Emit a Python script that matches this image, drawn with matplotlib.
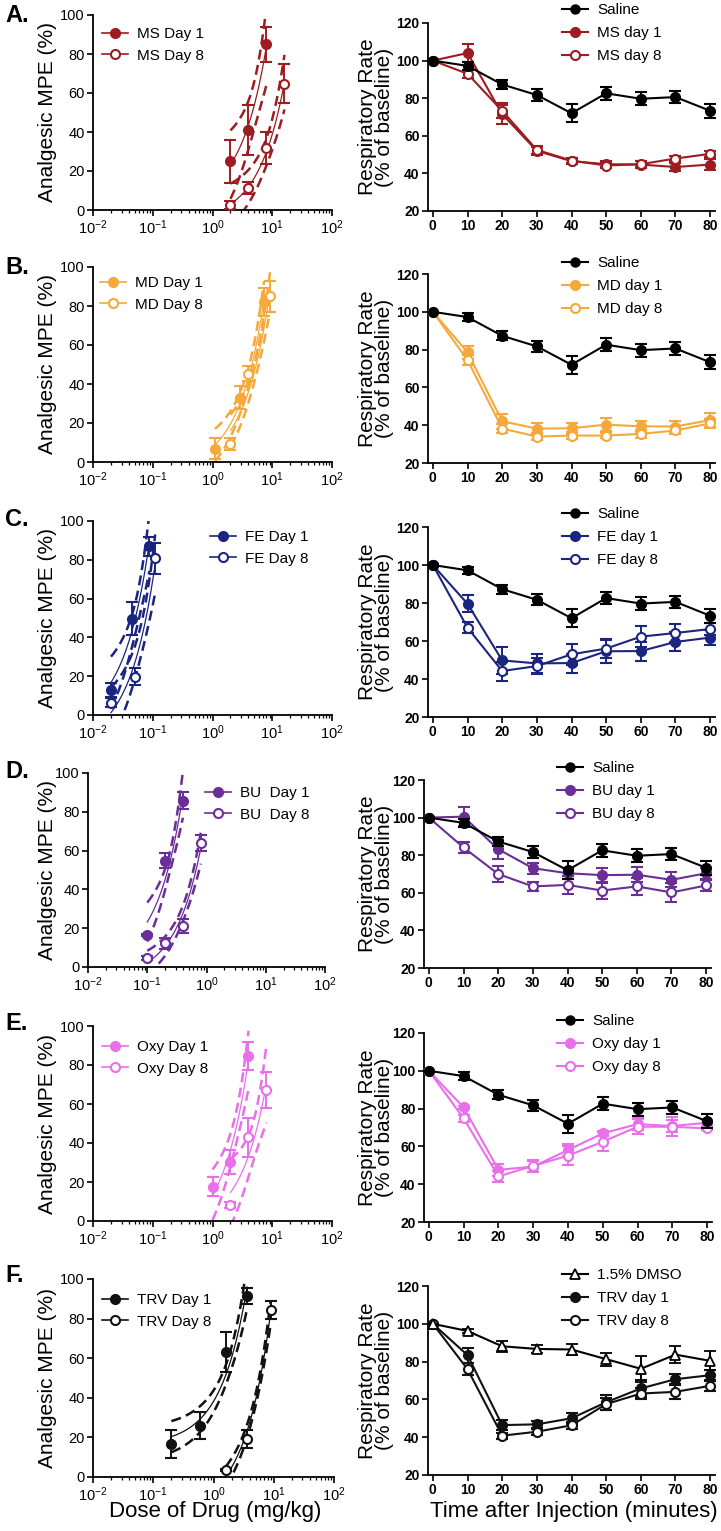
import numpy as np
import matplotlib
matplotlib.use('Agg')
import matplotlib.pyplot as plt
from matplotlib.lines import Line2D

plt.rcParams['font.family'] = ['Liberation Sans', 'DejaVu Sans']
plt.rcParams['mathtext.default'] = 'regular'

# ---------------- data ----------------
time_min = [0, 10, 20, 30, 40, 50, 60, 70, 80]
saline_rr = [100, 97.2, 87.3, 81.7, 72.0, 82.6, 79.7, 80.6, 73.3]
saline_err = [0, 2.0, 2.3, 3.0, 4.8, 3.3, 3.5, 3.3, 3.8]
dmso_rr = [100, 96.2, 88.1, 86.7, 86.4, 81.3, 76.2, 83.7, 80.4]
dmso_err = [0, 1.0, 3.0, 2.0, 3.0, 3.5, 7.0, 4.5, 5.0]

drug_names = ['MS', 'MD', 'FE', 'BU ', 'Oxy', 'TRV']
drug_colors = ['#9C1C22', '#F5A93A', '#1B2580', '#6A2E96', '#EA6FEA', '#111111']

# dose-response (analgesic MPE)
ms_d1_dose = [2, 4, 8];            ms_d1_mpe = [25, 41, 85];          ms_d1_err = [11, 13, 9]
ms_d8_dose = [2, 4, 8, 16];        ms_d8_mpe = [2.5, 11.3, 31.8, 64.8]; ms_d8_err = [2, 3, 8, 10]
md_d1_dose = [1.1, 2.9, 7.3];      md_d1_mpe = [6.8, 33, 82];         md_d1_err = [5.5, 6, 7]
md_d8_dose = [2.0, 4.0, 9.2];      md_d8_mpe = [9.4, 45.3, 85];       md_d8_err = [3, 4, 8]
fe_d1_dose = [0.02, 0.045, 0.088]; fe_d1_mpe = [12.9, 49.5, 87];      fe_d1_err = [3.5, 8.5, 5]
fe_d8_dose = [0.02, 0.051, 0.11];  fe_d8_mpe = [6.4, 19.8, 80.8];     fe_d8_err = [2.5, 4.5, 8]
bu_d1_dose = [0.1, 0.2, 0.4];      bu_d1_mpe = [16.7, 54.8, 85.7];    bu_d1_err = [0.5, 4, 4.5]
bu_d8_dose = [0.1, 0.2, 0.4, 0.8]; bu_d8_mpe = [4.8, 12.2, 21.2, 63.8]; bu_d8_err = [1, 3, 3.5, 4]
oxy_d1_dose = [1, 2, 4];           oxy_d1_mpe = [17.6, 30.3, 84.6];   oxy_d1_err = [5, 6, 7]
oxy_d8_dose = [2, 4, 8];           oxy_d8_mpe = [8.2, 42.9, 67.2];    oxy_d8_err = [1.5, 10, 9]
trv_d1_dose = [0.2, 0.6, 1.6, 3.6]; trv_d1_mpe = [16.5, 26, 63, 91.6]; trv_d1_err = [7, 7, 10, 4]
trv_d8_dose = [1.6, 3.6, 8.9];     trv_d8_mpe = [3.4, 19, 84.4];      trv_d8_err = [0.5, 4.5, 4.5]

# 95% CI band half-widths: (at mean dose, at far end)
ci_halfwidth = {
    'MS1': (12, 20), 'MS8': (7, 14), 'MD1': (5, 10), 'MD8': (5, 10),
    'FE1': (8, 15), 'FE8': (8, 15), 'BU1': (5, 12), 'BU8': (4, 8),
    'OX1': (8, 15), 'OX8': (10, 20), 'TR1': (5, 11), 'TR8': (3, 6),
}

# respiratory rate (% of baseline)
ms_d1_rr = [100, 104, 71.5, 52, 46.5, 44.9, 44.7, 43.4, 44.7];  ms_d1_rerr = [0, 5, 5, 2, 1.5, 1.5, 2, 2, 3]
ms_d8_rr = [100, 93, 73.3, 52.5, 46.8, 44.2, 44.9, 47.9, 50.4]; ms_d8_rerr = [0, 2, 4, 2, 1.5, 1.5, 1.5, 1.5, 1.5]
md_d1_rr = [100, 78.6, 42.1, 38.2, 38.4, 40.3, 39.4, 39.3, 42.7]; md_d1_rerr = [0, 3.5, 4, 3, 3, 3.5, 3, 3, 3.5]
md_d8_rr = [100, 74.5, 38.2, 34.0, 34.5, 34.5, 35.4, 37.2, 41.0]; md_d8_rerr = [0, 2.5, 2.5, 2, 2, 1.5, 2, 2, 2.5]
fe_d1_rr = [100, 79.6, 49.8, 48.2, 48.4, 54.6, 54.7, 59.5, 61.8]; fe_d1_rerr = [0, 4.5, 7, 5, 5, 6, 5, 5, 4]
fe_d8_rr = [100, 67.0, 44.2, 46.8, 53.0, 56.0, 62.3, 64.2, 66.3]; fe_d8_rerr = [0, 3, 5, 4, 5.5, 5, 5.5, 4.5, 3]
bu_d1_rr = [100, 100.5, 83.2, 73.1, 70.4, 69.4, 69.6, 66.9, 70.4]; bu_d1_rerr = [0, 5, 5, 3, 3, 4, 4, 4, 3]
bu_d8_rr = [100, 84.1, 70.0, 63.4, 64.2, 61.2, 63.4, 60.2, 63.9]; bu_d8_rerr = [0, 3, 4, 2.5, 5, 4.5, 4.5, 5, 3]
oxy_d1_rr = [100, 80.6, 47.6, 49.3, 58.1, 66.9, 71.8, 70.8, 72.5]; oxy_d1_rerr = [0, 1, 3, 3, 3, 1.5, 3, 3, 1.5]
oxy_d8_rr = [100, 74.8, 44.1, 49.7, 55.1, 62.5, 70.4, 70.4, 69.5]; oxy_d8_rerr = [0, 2, 3, 3, 5, 5, 4, 5, 1]
trv_d1_rr = [100, 83.4, 46.4, 46.8, 50.0, 58.5, 65.8, 70.7, 72.8]; trv_d1_rerr = [0, 4, 2.5, 2, 3, 4, 4.5, 3, 3]
trv_d8_rr = [100, 76.0, 40.8, 42.9, 46.3, 57.5, 63.1, 64.0, 67.2]; trv_d8_rerr = [0, 3, 1.5, 1.5, 2, 3, 3, 4, 3]

# ---------------- layout ----------------
W, H = 721, 1531
fig = plt.figure(figsize=(W / 100, H / 100), dpi=100)


def ax_px(l, t, r, b):
    return fig.add_axes([l / W, 1 - b / H, (r - l) / W, (b - t) / H])


left_boxes = [(93, 15, 332, 210), (93, 267, 332, 462), (93, 521, 332, 715),
              (88, 773, 325, 967), (93, 1026, 332, 1221), (93, 1279, 334, 1477)]
right_boxes = [(428, 23, 715, 211), (428, 274, 715, 463), (428, 527, 715, 717),
               (424, 780, 711, 968), (424, 1033, 712, 1222), (428, 1286, 715, 1475)]
letters = ['A.', 'B.', 'C.', 'D.', 'E.', 'F.']
left_leg = [(102, 36), (100, 285), (210, 539), (205, 795), (102, 1049), (102, 1302)]
right_leg = [(562, 12), (562, 265), (562, 516), (557, 770), (557, 1023), (562, 1277)]

left_sets = [
    (ms_d1_dose, ms_d1_mpe, ms_d1_err, ms_d8_dose, ms_d8_mpe, ms_d8_err, 'MS1', 'MS8'),
    (md_d1_dose, md_d1_mpe, md_d1_err, md_d8_dose, md_d8_mpe, md_d8_err, 'MD1', 'MD8'),
    (fe_d1_dose, fe_d1_mpe, fe_d1_err, fe_d8_dose, fe_d8_mpe, fe_d8_err, 'FE1', 'FE8'),
    (bu_d1_dose, bu_d1_mpe, bu_d1_err, bu_d8_dose, bu_d8_mpe, bu_d8_err, 'BU1', 'BU8'),
    (oxy_d1_dose, oxy_d1_mpe, oxy_d1_err, oxy_d8_dose, oxy_d8_mpe, oxy_d8_err, 'OX1', 'OX8'),
    (trv_d1_dose, trv_d1_mpe, trv_d1_err, trv_d8_dose, trv_d8_mpe, trv_d8_err, 'TR1', 'TR8'),
]
right_sets = [
    (ms_d1_rr, ms_d1_rerr, ms_d8_rr, ms_d8_rerr),
    (md_d1_rr, md_d1_rerr, md_d8_rr, md_d8_rerr),
    (fe_d1_rr, fe_d1_rerr, fe_d8_rr, fe_d8_rerr),
    (bu_d1_rr, bu_d1_rerr, bu_d8_rr, bu_d8_rerr),
    (oxy_d1_rr, oxy_d1_rerr, oxy_d8_rr, oxy_d8_rerr),
    (trv_d1_rr, trv_d1_rerr, trv_d8_rr, trv_d8_rerr),
]

MS_ = 6.5
LW = 1.5


def style_axes(ax):
    for s in ['top', 'right']:
        ax.spines[s].set_visible(False)
    for s in ['left', 'bottom']:
        ax.spines[s].set_linewidth(1.3)
    ax.tick_params(which='major', direction='out', length=4.5, width=1.2)
    ax.tick_params(which='minor', direction='out', length=2.5, width=0.9)


def fit_and_band(ax, dose, mpe, color, key):
    d = np.asarray(dose, float)
    m = np.asarray(mpe, float)
    slope, icpt = np.polyfit(d, m, 1)
    xs = np.geomspace(d.min(), d.max(), 200)
    fit = icpt + slope * xs
    h0, h1 = ci_halfwidth[key]
    xm = d.mean()
    xe = max(abs(d.min() - xm), abs(d.max() - xm))
    hw = np.sqrt(h0 ** 2 + (h1 ** 2 - h0 ** 2) * ((xs - xm) / xe) ** 2)
    ax.plot(xs, fit, color=color, lw=0.9, zorder=2)
    ax.plot(xs, fit + hw, color=color, lw=1.8, ls=(0, (4, 2.2)), zorder=2)
    ax.plot(xs, fit - hw, color=color, lw=1.8, ls=(0, (4, 2.2)), zorder=2)


def legend_at(ax, handles, labels, x_px, yc_px, spacing):
    ax.legend(handles, labels, loc='upper left',
              bbox_to_anchor=(x_px / W, 1 - (yc_px - 9) / H),
              bbox_transform=fig.transFigure, frameon=False, borderpad=0,
              borderaxespad=0, handlelength=1.7, handletextpad=0.6,
              labelspacing=spacing, fontsize=11)


for i in range(6):
    c = drug_colors[i]
    name = drug_names[i]
    # ---- left: dose response ----
    ax = ax_px(*left_boxes[i])
    d1, m1, e1, d8, m8, e8, k1, k8 = left_sets[i]
    fit_and_band(ax, d1, m1, c, k1)
    fit_and_band(ax, d8, m8, c, k8)
    ax.errorbar(d1, m1, yerr=e1, ls='none', marker='o', ms=MS_, color=c, mfc=c, mec=c,
                mew=1.5, elinewidth=1.4, capsize=4, capthick=1.4, zorder=4, clip_on=False)
    ax.errorbar(d8, m8, yerr=e8, ls='none', marker='o', ms=MS_, color=c, mfc='white', mec=c,
                mew=1.5, elinewidth=1.4, capsize=4, capthick=1.4, zorder=4, clip_on=False)
    ax.set_xscale('log')
    ax.set_xlim(1e-2, 1e2)
    ax.set_ylim(0, 100)
    ax.set_yticks([0, 20, 40, 60, 80, 100])
    style_axes(ax)
    ax.tick_params(axis='both', labelsize=10.5, pad=1.5)
    lb = left_boxes[i]
    fig.text(48 / W, 1 - ((lb[1] + lb[3]) / 2) / H, 'Analgesic MPE (%)', rotation=90,
             ha='center', va='center', fontsize=15)
    h1 = Line2D([], [], color=c, marker='o', ms=MS_, mfc=c, mec=c, mew=1.5, lw=1.2)
    h8 = Line2D([], [], color=c, marker='o', ms=MS_, mfc='white', mec=c, mew=1.5, lw=1.2)
    legend_at(ax, [h1, h8], [name + ' Day 1', name + ' Day 8'],
              left_leg[i][0], left_leg[i][1], 0.5)
    fig.text(5 / W, 1 - (22 + 252 * i) / H, letters[i], fontsize=17, fontweight='bold',
             ha='left', va='baseline')

    # ---- right: respiratory rate ----
    ax = ax_px(*right_boxes[i])
    r1, re1, r8, re8 = right_sets[i]
    ax.errorbar(time_min, r1, yerr=re1, marker='o', ms=MS_, color=c, mfc=c, mec=c, mew=1.5,
                lw=LW, elinewidth=1.4, capsize=4, capthick=1.4, zorder=3, clip_on=False)
    ax.errorbar(time_min, r8, yerr=re8, marker='o', ms=MS_, color=c, mfc='white', mec=c, mew=1.5,
                lw=LW, elinewidth=1.4, capsize=4, capthick=1.4, zorder=3, clip_on=False)
    if i < 5:
        ax.errorbar(time_min, saline_rr, yerr=saline_err, marker='o', ms=MS_, color='black',
                    mfc='black', mec='black', mew=1.5, lw=LW, elinewidth=1.4, capsize=4,
                    capthick=1.4, zorder=5, clip_on=False)
        hc = Line2D([], [], color='black', marker='o', ms=MS_, mfc='black', mec='black', lw=1.5)
        ctrl = 'Saline'
    else:
        ax.errorbar(time_min, dmso_rr, yerr=dmso_err, marker='^', ms=MS_, color='black',
                    mfc='white', mec='black', mew=1.3, lw=LW, elinewidth=1.4, capsize=4,
                    capthick=1.4, zorder=5, clip_on=False)
        hc = Line2D([], [], color='black', marker='^', ms=MS_, mfc='white', mec='black',
                    mew=1.3, lw=1.5)
        ctrl = '1.5% DMSO'
    ax.set_xlim(-1.4, 81.4)
    ax.set_ylim(20, 120)
    ax.set_xticks(time_min)
    ax.set_yticks([20, 40, 60, 80, 100, 120])
    style_axes(ax)
    ax.tick_params(axis='both', labelsize=10, pad=1.5)
    for t in ax.get_xticklabels() + ax.get_yticklabels():
        t.set_fontweight('bold')
    rb = right_boxes[i]
    fig.text(376 / W, 1 - ((rb[1] + rb[3]) / 2) / H, 'Respiratory Rate\n(% of baseline)',
             rotation=90, ha='center', va='center', fontsize=15, linespacing=0.92)
    hr1 = Line2D([], [], color=c, marker='o', ms=MS_, mfc=c, mec=c, mew=1.5, lw=1.5)
    hr8 = Line2D([], [], color=c, marker='o', ms=MS_, mfc='white', mec=c, mew=1.5, lw=1.5)
    nm = name.strip()
    legend_at(ax, [hc, hr1, hr8], [ctrl, nm + ' day 1', nm + ' day 8'],
              right_leg[i][0], right_leg[i][1], 0.6)

fig.text(215 / W, 1 - 1512 / H, 'Dose of Drug (mg/kg)', ha='center', va='center', fontsize=16)
fig.text(574 / W, 1 - 1511 / H, 'Time after Injection (minutes)', ha='center', va='center',
         fontsize=16)

fig.savefig('out.png', dpi=100)
